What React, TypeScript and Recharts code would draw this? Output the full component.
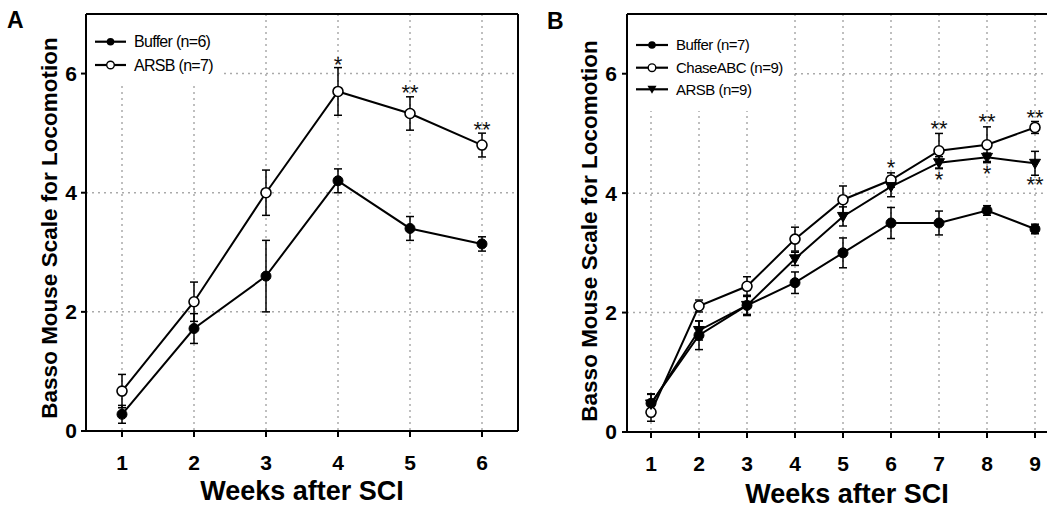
import React from 'react';
import {
  LineChart, Line, XAxis, YAxis, CartesianGrid, ErrorBar, Legend,
  ReferenceLine, LabelList, Label,
} from 'recharts';

const FONT = '"Liberation Sans", Arial, Helvetica, sans-serif';

// ---------- Panel A data ----------
const weeksA = [1, 2, 3, 4, 5, 6];
const bufferA = [0.28, 1.72, 2.6, 4.2, 3.4, 3.14];
const bufferAErr = [0.15, 0.25, 0.6, 0.2, 0.2, 0.12];
const arsbA = [0.67, 2.17, 4.0, 5.7, 5.33, 4.8];
const arsbAErr = [0.28, 0.33, 0.38, 0.4, 0.28, 0.2];
const starsAPos = [null, null, null, 6.17, 5.7, 5.08];
const starsAText = [null, null, null, '*', '**', '**'];
const legendA = ['Buffer (n=6)', 'ARSB (n=7)'];

// ---------- Panel B data ----------
const weeksB = [1, 2, 3, 4, 5, 6, 7, 8, 9];
const bufferB = [0.48, 1.62, 2.12, 2.5, 3.0, 3.5, 3.5, 3.71, 3.4];
const bufferBErr = [0.15, 0.24, 0.15, 0.18, 0.25, 0.26, 0.2, 0.08, 0.08];
const chaseB = [0.33, 2.11, 2.44, 3.23, 3.89, 4.22, 4.71, 4.81, 5.1];
const chaseBErr = [0.15, 0.1, 0.16, 0.2, 0.23, 0.12, 0.29, 0.3, 0.1];
const arsbB = [0.47, 1.7, 2.12, 2.9, 3.61, 4.11, 4.51, 4.6, 4.5];
const arsbBErr = [0.17, 0.16, 0.17, 0.11, 0.16, 0.17, 0.1, 0.07, 0.2];
const starsBUpPos = [null, null, null, null, null, 4.45, 5.1, 5.22, 5.3];
const starsBUpText = [null, null, null, null, null, '*', '**', '**', '**'];
const starsBDownPos = [null, null, null, null, null, null, 4.26, 4.36, 4.17];
const starsBDownText = [null, null, null, null, null, null, '*', '*', '**'];
const legendB = ['Buffer (n=7)', 'ChaseABC (n=9)', 'ARSB (n=9)'];

const yTicks = [0, 2, 4, 6];
const yLabel = 'Basso Mouse Scale for Locomotion';
const xLabel = 'Weeks after SCI';

const dataA = weeksA.map((w, i) => ({
  week: w,
  buffer: bufferA[i], bufferErr: bufferAErr[i],
  arsb: arsbA[i], arsbErr: arsbAErr[i],
  starPos: starsAPos[i], starText: starsAText[i],
}));

const dataB = weeksB.map((w, i) => ({
  week: w,
  buffer: bufferB[i], bufferErr: bufferBErr[i],
  chase: chaseB[i], chaseErr: chaseBErr[i],
  arsb: arsbB[i], arsbErr: arsbBErr[i],
  upPos: starsBUpPos[i], upText: starsBUpText[i],
  downPos: starsBDownPos[i], downText: starsBDownText[i],
}));

const axisStroke = { stroke: '#000', strokeWidth: 2 };
const tickStyle = { fontSize: 21, fontWeight: 'bold', fill: '#000', fontFamily: FONT };

const filledDot = { r: 5, fill: '#000', stroke: '#000', strokeWidth: 1 };
const openDot = { r: 5, fill: '#fff', stroke: '#000', strokeWidth: 1.6 };

const TriDot = (props: any) => {
  const { cx, cy, index } = props;
  if (cx == null || cy == null) return <g key={`t-${index}`} />;
  return (
    <path
      key={`t-${index}`}
      d={`M${cx - 5.5},${cy - 4} L${cx + 5.5},${cy - 4} L${cx},${cy + 5.5} Z`}
      fill="#000"
      stroke="#000"
      strokeWidth={1}
    />
  );
};

const starContent = (props: any) => {
  const { x, y, value } = props;
  if (value == null || x == null || y == null || isNaN(y)) return null;
  return (
    <text
      x={x}
      y={y + 9}
      textAnchor="middle"
      fontSize={22}
      fill="#111"
      fontFamily={FONT}
    >
      {value}
    </text>
  );
};

const LegendMarker = ({ kind, x, y }: { kind: string; x: number; y: number }) => {
  if (kind === 'filled') return <circle cx={x} cy={y} r={3.8} fill="#000" />;
  if (kind === 'open') return <circle cx={x} cy={y} r={3.8} fill="#fff" stroke="#000" strokeWidth={1.4} />;
  return <path d={`M${x - 4.5},${y - 3.5} L${x + 4.5},${y - 3.5} L${x},${y + 4.5} Z`} fill="#000" />;
};

const makeLegend = (
  labels: string[], kinds: string[], rows: number[], w: number, h: number,
  lineX1: number, lineX2: number, textX: number, fontSize: number, ls: number,
) => () => (
  <svg width={w} height={h} style={{ display: 'block' }}>
    {labels.map((lab, i) => (
      <g key={lab}>
        <line x1={lineX1} x2={lineX2} y1={rows[i]} y2={rows[i]} stroke="#000" strokeWidth={2.2} />
        <LegendMarker kind={kinds[i]} x={(lineX1 + lineX2) / 2} y={rows[i]} />
        <text
          x={textX}
          y={rows[i] + fontSize * 0.36}
          fontSize={fontSize}
          letterSpacing={ls}
          fontFamily={FONT}
          fill="#000"
        >
          {lab}
        </text>
      </g>
    ))}
  </svg>
);

const yLabelContent = (x: number, y: number) => () => (
  <text
    x={x}
    y={y}
    transform={`rotate(-90 ${x} ${y})`}
    textAnchor="middle"
    fontSize={22.5}
    fontWeight="bold"
    fontFamily={FONT}
    fill="#000"
  >
    {yLabel}
  </text>
);

const xLabelContent = (x: number, y: number) => () => (
  <text
    x={x}
    y={y}
    textAnchor="middle"
    fontSize={27}
    fontWeight="bold"
    fontFamily={FONT}
    fill="#000"
  >
    {xLabel}
  </text>
);

const ChartA = () => (
  <LineChart
    width={525}
    height={510}
    data={dataA}
    margin={{ top: 14, right: 7, bottom: 0, left: 0 }}
    style={{ fontFamily: FONT }}
  >
    <CartesianGrid stroke="#aaa" strokeWidth={1.5} strokeDasharray="2 4" />
    <XAxis
      dataKey="week"
      type="number"
      domain={[0.5, 6.5]}
      ticks={weeksA}
      height={79}
      axisLine={axisStroke}
      tickLine={axisStroke}
      tickSize={6}
      tickMargin={18}
      tick={tickStyle}
      allowDataOverflow
    >
      <Label content={xLabelContent(302, 500)} />
    </XAxis>
    <YAxis
      type="number"
      domain={[0, 7]}
      ticks={yTicks}
      width={86}
      axisLine={axisStroke}
      tickLine={axisStroke}
      tickSize={5}
      tickMargin={4}
      tick={tickStyle}
      allowDataOverflow
    >
      <Label content={yLabelContent(57, 228)} />
    </YAxis>
    <ReferenceLine y={7} stroke="#000" strokeWidth={2} />
    <ReferenceLine x={6.5} stroke="#000" strokeWidth={2} />
    <Line
      dataKey="buffer"
      stroke="#000"
      strokeWidth={2}
      dot={filledDot}
      activeDot={false}
      isAnimationActive={false}
    >
      <ErrorBar dataKey="bufferErr" direction="y" width={4} stroke="#000" strokeWidth={1.5} />
    </Line>
    <Line
      dataKey="arsb"
      stroke="#000"
      strokeWidth={2}
      dot={openDot}
      activeDot={false}
      isAnimationActive={false}
    >
      <ErrorBar dataKey="arsbErr" direction="y" width={4} stroke="#000" strokeWidth={1.5} />
    </Line>
    <Line
      dataKey="starPos"
      stroke="none"
      dot={false}
      activeDot={false}
      legendType="none"
      isAnimationActive={false}
    >
      <LabelList dataKey="starText" content={starContent} />
    </Line>
    <Legend
      layout="vertical"
      align="center"
      verticalAlign="middle"
      wrapperStyle={{ left: 87, top: 15, width: 135, height: 71, background: '#fff', margin: 0, padding: 0 }}
      content={makeLegend(legendA, ['filled', 'open'], [26.7, 50], 135, 71, 8, 39, 47, 16, -0.7)}
    />
  </LineChart>
);

const ChartB = () => (
  <LineChart
    width={540}
    height={510}
    data={dataB}
    margin={{ top: 14, right: 6, bottom: 0, left: 0 }}
    style={{ fontFamily: FONT }}
  >
    <CartesianGrid stroke="#aaa" strokeWidth={1.5} strokeDasharray="2 4" />
    <XAxis
      dataKey="week"
      type="number"
      domain={[0.5, 9.5]}
      ticks={weeksB}
      height={78}
      axisLine={axisStroke}
      tickLine={axisStroke}
      tickSize={6}
      tickMargin={18}
      tick={tickStyle}
      allowDataOverflow
    >
      <Label content={xLabelContent(322, 503)} />
    </XAxis>
    <YAxis
      type="number"
      domain={[0, 7]}
      ticks={yTicks}
      width={102}
      axisLine={axisStroke}
      tickLine={axisStroke}
      tickSize={5}
      tickMargin={5}
      tick={tickStyle}
      allowDataOverflow
    >
      <Label content={yLabelContent(72, 231)} />
    </YAxis>
    <ReferenceLine y={7} stroke="#000" strokeWidth={2} />
    <Line
      dataKey="buffer"
      stroke="#000"
      strokeWidth={2}
      dot={filledDot}
      activeDot={false}
      isAnimationActive={false}
    >
      <ErrorBar dataKey="bufferErr" direction="y" width={4} stroke="#000" strokeWidth={1.5} />
    </Line>
    <Line
      dataKey="chase"
      stroke="#000"
      strokeWidth={2}
      dot={openDot}
      activeDot={false}
      isAnimationActive={false}
    >
      <ErrorBar dataKey="chaseErr" direction="y" width={4} stroke="#000" strokeWidth={1.5} />
    </Line>
    <Line
      dataKey="arsb"
      stroke="#000"
      strokeWidth={2}
      dot={TriDot}
      activeDot={false}
      isAnimationActive={false}
    >
      <ErrorBar dataKey="arsbErr" direction="y" width={4} stroke="#000" strokeWidth={1.5} />
    </Line>
    <Line
      dataKey="upPos"
      stroke="none"
      dot={false}
      activeDot={false}
      legendType="none"
      isAnimationActive={false}
    >
      <LabelList dataKey="upText" content={starContent} />
    </Line>
    <Line
      dataKey="downPos"
      stroke="none"
      dot={false}
      activeDot={false}
      legendType="none"
      isAnimationActive={false}
    >
      <LabelList dataKey="downText" content={starContent} />
    </Line>
    <Legend
      layout="vertical"
      align="center"
      verticalAlign="middle"
      wrapperStyle={{ left: 103, top: 15, width: 165, height: 96, background: '#fff', margin: 0, padding: 0 }}
      content={makeLegend(legendB, ['filled', 'open', 'tri'], [30, 52.7, 74.3], 165, 96, 8, 40, 48, 15, -0.5)}
    />
  </LineChart>
);

const PanelLetter = ({ ch, x, y }: { ch: string; x: number; y: number }) => (
  <svg width={40} height={40} style={{ position: 'absolute', left: 0, top: 0 }}>
    <text x={x} y={y} fontSize={23} fontWeight="bold" fontFamily={FONT} fill="#000">{ch}</text>
  </svg>
);

export default function App() {
  return (
    <div
      style={{
        position: 'absolute', left: 0, top: 0, width: 1047, height: 510,
        overflow: 'hidden', background: '#fff', fontFamily: FONT,
      }}
    >
      <div style={{ position: 'absolute', left: 0, top: 0 }}>
        <ChartA />
      </div>
      <div style={{ position: 'absolute', left: 525, top: 0 }}>
        <ChartB />
      </div>
      <div style={{ position: 'absolute', left: 0, top: 0 }}>
        <PanelLetter ch="A" x={7} y={28} />
      </div>
      <div style={{ position: 'absolute', left: 525, top: 0 }}>
        <PanelLetter ch="B" x={22} y={29} />
      </div>
    </div>
  );
}
